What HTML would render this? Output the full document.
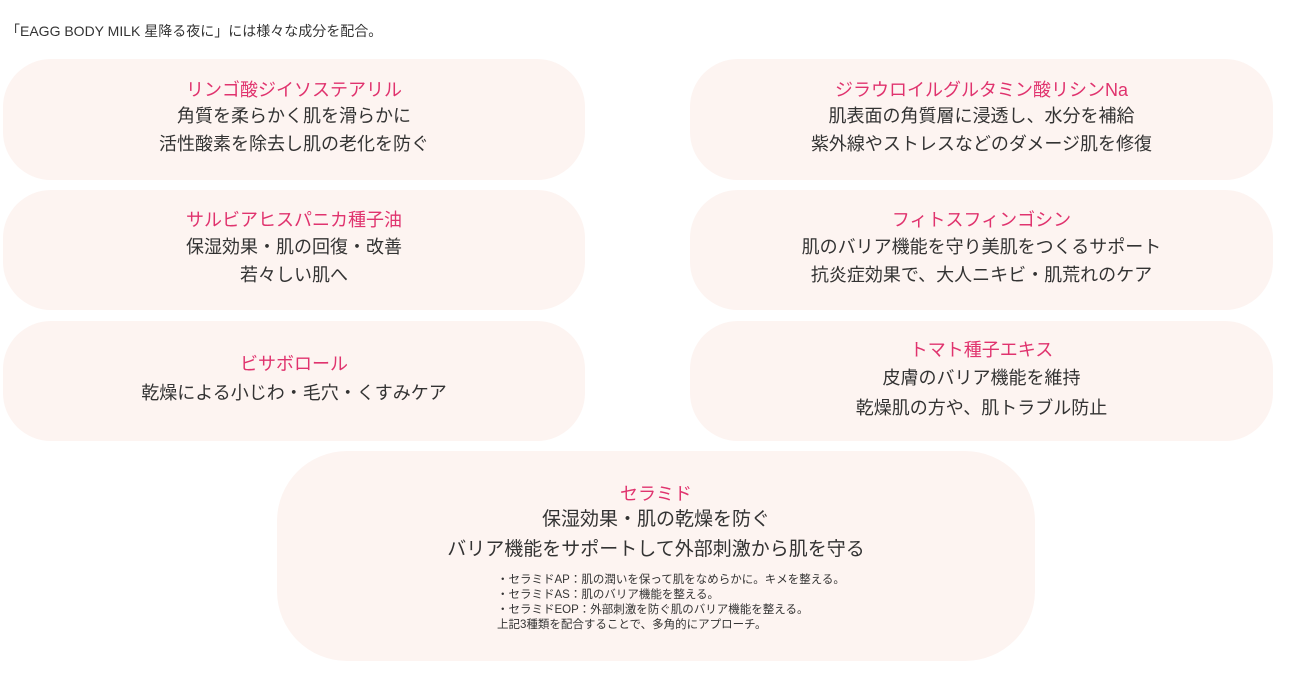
<!DOCTYPE html>
<html><head><meta charset="utf-8"><style>
body{margin:0;width:1316px;height:680px;background:#fff;font-family:"Liberation Sans","Noto Sans CJK JP",sans-serif;color:#333;position:relative;overflow:hidden}
.h{position:absolute;left:6px;top:21px;font-size:14px}
.b{position:absolute;background:#fdf4f1;border-radius:48px;text-align:center}
.b div{position:absolute;left:0;right:0;font-size:18px;line-height:22px}
.b .t{color:#e0336e;font-size:18px}
.b div.s{left:220px;right:auto;text-align:left;font-size:11.5px;line-height:15px;white-space:nowrap}
</style></head><body>
<div class="h">「EAGG BODY MILK 星降る夜に」には様々な成分を配合。</div>

<div class="b" style="left:3px;top:59px;width:582px;height:121px">
<div class="t" style="top:20px">リンゴ酸ジイソステアリル</div>
<div style="top:46px">角質を柔らかく肌を滑らかに</div>
<div style="top:74px">活性酸素を除去し肌の老化を防ぐ</div></div>

<div class="b" style="left:3px;top:190px;width:582px;height:120px">
<div class="t" style="top:19px">サルビアヒスパニカ種子油</div>
<div style="top:46px">保湿効果・肌の回復・改善</div>
<div style="top:74px">若々しい肌へ</div></div>

<div class="b" style="left:3px;top:321px;width:582px;height:120px">
<div class="t" style="top:32px">ビサボロール</div>
<div style="top:61px">乾燥による小じわ・毛穴・くすみケア</div></div>

<div class="b" style="left:690px;top:59px;width:583px;height:121px">
<div class="t" style="top:20px">ジラウロイルグルタミン酸リシンNa</div>
<div style="top:46px">肌表面の角質層に浸透し、水分を補給</div>
<div style="top:74px">紫外線やストレスなどのダメージ肌を修復</div></div>

<div class="b" style="left:690px;top:190px;width:583px;height:120px">
<div class="t" style="top:19px">フィトスフィンゴシン</div>
<div style="top:46px">肌のバリア機能を守り美肌をつくるサポート</div>
<div style="top:74px">抗炎症効果で、大人ニキビ・肌荒れのケア</div></div>

<div class="b" style="left:690px;top:321px;width:583px;height:120px">
<div class="t" style="top:18px">トマト種子エキス</div>
<div style="top:46px">皮膚のバリア機能を維持</div>
<div style="top:76px">乾燥肌の方や、肌トラブル防止</div></div>

<div class="b" style="left:277px;top:451px;width:758px;height:210px;border-radius:70px">
<div class="t" style="top:32px">セラミド</div>
<div style="top:58px;font-size:19px">保湿効果・肌の乾燥を防ぐ</div>
<div style="top:88px;font-size:19px">バリア機能をサポートして外部刺激から肌を守る</div>
<div class="s" style="top:122px">・セラミドAP：肌の潤いを保って肌をなめらかに。キメを整える。<br>・セラミドAS：肌のバリア機能を整える。<br>・セラミドEOP：外部刺激を防ぐ肌のバリア機能を整える。<br>上記3種類を配合することで、多角的にアプローチ。</div></div>
</body></html>
